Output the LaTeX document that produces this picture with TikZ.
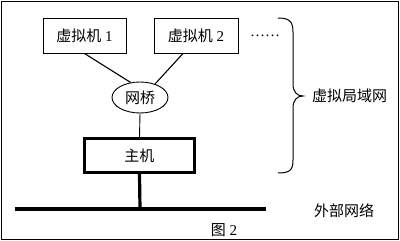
\documentclass[tikz,border=0pt]{standalone}
\usepackage{fontspec}
\setmainfont{Liberation Serif}
\newfontfamily\cjk{Noto Sans CJK SC}
\usetikzlibrary{shapes.geometric}
\begin{document}
\begin{tikzpicture}[x=1pt,y=-1pt,
  txt/.style={font=\fontsize{15}{18}\selectfont, inner sep=0pt},
  vmbox/.style={draw, line width=1pt, minimum width=83pt, minimum height=35pt, txt},
  bridge/.style={draw, ellipse, line width=0.9pt, minimum width=56pt, minimum height=31pt, txt},
  hostbox/.style={draw, line width=3pt, minimum width=110pt, minimum height=34pt, txt},
  thinline/.style={line width=1.1pt},
  thickline/.style={line width=3.2pt}]
\useasboundingbox (0,0) rectangle (400,241);
\draw[line width=1pt] (1.5,1.5) rectangle (398.5,239.5);
\node[vmbox] (b1) at (84.5,35.5) {{\cjk 虚拟机} 1};
\node[vmbox, minimum width=84pt] (b2) at (196,35.5) {{\cjk 虚拟机} 2};
\node[txt, anchor=west] (dots) at (250,36) {……};
\node[bridge] (br) at (140,97.5) {\cjk 网桥};
\node[hostbox] (host) at (139.5,155.5) {\cjk 主机};
\coordinate (busL) at (15,209);
\coordinate (busR) at (266,209);
\coordinate (busC) at (140,209);
\draw[thinline] (b1.south) -- (br.122);
\draw[thinline] ([xshift=-13pt]b2.south) -- (br.42);
\draw[line width=0.9pt] (br.south) -- (host.north);
\draw[thickline] (host.south) -- (busC);
\draw[thickline] (busL) -- (busR);
\coordinate (brtop) at (278,18);
\coordinate (brbot) at (278,173);
\coordinate (brtip) at (303,96);
\draw[line width=1pt] (brtop) .. controls (290,18) and (293,22) .. (293,32) -- (293,84)
  .. controls (293,92) and (297,96) .. (brtip)
  .. controls (297,96) and (293,100) .. (293,108) -- (293,160)
  .. controls (293,170) and (290,173) .. (brbot);
\node[txt, anchor=west] (vlan) at (312,96) {\cjk 虚拟局域网};
\node[txt, anchor=west] (ext) at (314,211) {\cjk 外部网络};
\node[txt] (cap) at (224,230) {{\cjk 图} 2};
\end{tikzpicture}
\end{document}
